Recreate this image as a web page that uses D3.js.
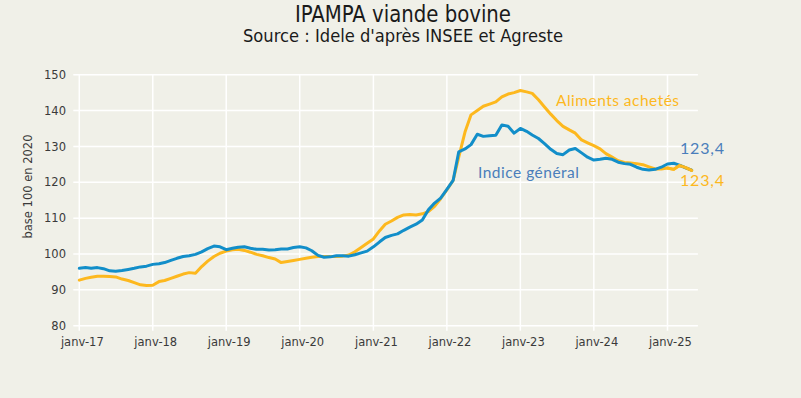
<!DOCTYPE html>
<html>
<head>
<meta charset="utf-8">
<script src="https://cdn.jsdelivr.net/npm/d3@7"></script>
<style>
  body { margin: 0; background: #f0f0e8; }
  svg { display: block; }
</style>
</head>
<body>
<svg id="chart" width="801" height="398"></svg>
<script>
// monthly values, janv-17 .. mai-25
const indiceGeneral = [
  96.0, 96.2, 96.0, 96.2, 95.9, 95.3, 95.2, 95.4, 95.7, 96.0, 96.4, 96.6,
  97.1, 97.3, 97.6, 98.2, 98.8, 99.3, 99.5, 99.9, 100.6, 101.5, 102.2, 102.0,
  101.2, 101.6, 101.9, 102.0, 101.6, 101.3, 101.3, 101.1, 101.2, 101.4, 101.4, 101.8,
  102.0, 101.7, 100.9, 99.6, 99.1, 99.2, 99.5, 99.5, 99.4, 99.8, 100.3, 100.8,
  102.0, 103.4, 104.6, 105.2, 105.6, 106.6, 107.5, 108.3, 109.5, 112.3, 114.2, 115.6,
  118.0, 120.5, 128.5, 129.3, 130.5, 133.4, 132.8, 133.0, 133.1, 136.0, 135.6, 133.7,
  135.0, 134.2, 133.2, 132.2, 130.8, 129.2, 128.0, 127.7, 129.0, 129.4, 128.2, 127.0,
  126.2, 126.4, 126.7, 126.4, 125.6, 125.2, 125.0, 124.2, 123.6, 123.4, 123.6, 124.2,
  125.1, 125.3, 124.8, 124.0, 123.4
];
const alimentsAchetes = [
  92.7, 93.2, 93.5, 93.8, 93.8, 93.7, 93.6, 93.0, 92.6, 92.0, 91.4, 91.2,
  91.3, 92.3, 92.6, 93.2, 93.8, 94.4, 94.8, 94.6, 96.5, 98.0, 99.3, 100.2,
  100.8, 101.2, 101.3, 101.0, 100.5, 99.9, 99.5, 99.0, 98.6, 97.6, 97.9, 98.2,
  98.5, 98.8, 99.1, 99.3, 99.3, 99.3, 99.3, 99.4, 99.7, 100.6, 101.8, 103.0,
  104.2, 106.5, 108.3, 109.2, 110.2, 110.9, 111.0, 110.9, 111.2, 111.8, 113.3, 115.4,
  117.9, 120.5, 127.0, 134.0, 138.8, 140.0, 141.2, 141.8, 142.4, 143.8, 144.6, 145.0,
  145.6, 145.2, 144.8, 143.0, 141.0, 139.0, 137.2, 135.6, 134.6, 133.7, 131.8, 131.0,
  130.2, 129.3, 128.0, 127.0, 126.0, 125.5, 125.4, 125.2, 124.9, 124.3, 123.7, 123.7,
  124.0, 123.6, 124.7, 124.1, 123.3
];
const xTickLabels = ["janv-17", "janv-18", "janv-19", "janv-20", "janv-21",
                     "janv-22", "janv-23", "janv-24", "janv-25"];
const yTicks = [80, 90, 100, 110, 120, 130, 140, 150];
const lastLabel = "123,4";

const months = d3.timeMonth.range(new Date(2017, 0, 1), new Date(2017, indiceGeneral.length, 1));

const svg = d3.select("#chart");
const plotLeft = 79.3, plotRight = 697.9, plotTop = 74.7, plotBottom = 325.7;

const x = d3.scaleTime()
  .domain([new Date(2017, 0, 1), new Date(2025, 5, 1)])
  .range([plotLeft, plotRight]);
const y = d3.scaleLinear()
  .domain([80, 150])
  .range([plotBottom, plotTop]);

svg.append("rect").attr("width", 801).attr("height", 398).attr("fill", "#f0f0e8");

// titles
svg.append("text")
  .attr("x", 403).attr("y", 22)
  .attr("text-anchor", "middle")
  .attr("textLength", 216).attr("lengthAdjust", "spacingAndGlyphs")
  .style("font-family", "'Liberation Sans Narrow', 'DejaVu Sans Condensed', sans-serif")
  .style("font-size", "23px")
  .style("fill", "#1a1a1a")
  .text("IPAMPA viande bovine");
svg.append("text")
  .attr("x", 403).attr("y", 42)
  .attr("text-anchor", "middle")
  .attr("textLength", 320).attr("lengthAdjust", "spacingAndGlyphs")
  .style("font-family", "'Liberation Sans Narrow', 'DejaVu Sans Condensed', sans-serif")
  .style("font-size", "18.5px")
  .style("fill", "#1a1a1a")
  .text("Source : Idele d'après INSEE et Agreste");

// grid
const years = xTickLabels.map((d, i) => new Date(2017 + i, 0, 1));
svg.append("g")
  .selectAll("line")
  .data(yTicks)
  .join("line")
  .attr("x1", plotLeft - 6).attr("x2", plotRight)
  .attr("y1", d => y(d)).attr("y2", d => y(d))
  .attr("stroke", "#fff").attr("stroke-width", 1.5);
svg.append("g")
  .selectAll("line")
  .data(years)
  .join("line")
  .attr("x1", d => x(d)).attr("x2", d => x(d))
  .attr("y1", plotTop).attr("y2", plotBottom + 5)
  .attr("stroke", "#fff").attr("stroke-width", 1.5);

// axis labels
const tickFont = "'DejaVu Sans', sans-serif";
svg.append("g")
  .selectAll("text")
  .data(yTicks)
  .join("text")
  .attr("x", 66).attr("y", d => y(d))
  .attr("dy", "0.36em")
  .attr("text-anchor", "end")
  .style("font-family", tickFont).style("font-size", "11.5px").style("fill", "#3a3a3a")
  .text(d => d);
svg.append("g")
  .selectAll("text")
  .data(years)
  .join("text")
  .attr("x", (d) => x(d) + 3).attr("y", 346)
  .attr("text-anchor", "middle")
  .style("font-family", tickFont).style("font-size", "11.5px").style("fill", "#3a3a3a")
  .text((d, i) => xTickLabels[i]);
svg.append("text")
  .attr("transform", "translate(32,186.5) rotate(-90)")
  .attr("text-anchor", "middle")
  .style("font-family", tickFont).style("font-size", "11.5px").style("fill", "#3a3a3a")
  .text("base 100 en 2020");

// lines
const line = d3.line()
  .x((d, i) => x(months[i]))
  .y(d => y(d));
svg.append("path")
  .datum(alimentsAchetes)
  .attr("d", line)
  .attr("fill", "none").attr("stroke", "#fdb81e")
  .attr("stroke-width", 3).attr("stroke-linejoin", "round").attr("stroke-linecap", "round");
svg.append("path")
  .datum(indiceGeneral)
  .attr("d", line)
  .attr("fill", "none").attr("stroke", "#128ec9")
  .attr("stroke-width", 3).attr("stroke-linejoin", "round").attr("stroke-linecap", "round");
// orange drawn again on the tail, it sits on top at the end
svg.append("path")
  .datum(alimentsAchetes.slice(-5))
  .attr("d", d3.line().x((d, i) => x(months[months.length - 5 + i])).y(d => y(d)))
  .attr("fill", "none").attr("stroke", "#fdb81e")
  .attr("stroke-width", 3).attr("stroke-linejoin", "round").attr("stroke-linecap", "round");

// series labels
const labFont = "Lato, 'Open Sans', sans-serif";
svg.append("text")
  .attr("x", 556).attr("y", 106)
  .attr("textLength", 123).attr("lengthAdjust", "spacing")
  .style("font-family", labFont).style("font-size", "15.5px").style("fill", "#fdb81e")
  .text("Aliments achetés");
svg.append("text")
  .attr("x", 478).attr("y", 178)
  .attr("textLength", 101).attr("lengthAdjust", "spacing")
  .style("font-family", labFont).style("font-size", "15.5px").style("fill", "#4a7ebb")
  .text("Indice général");
svg.append("text")
  .attr("x", 680).attr("y", 153.5)
  .attr("textLength", 44).attr("lengthAdjust", "spacing")
  .style("font-family", labFont).style("font-size", "16px").style("fill", "#4a7ebb")
  .text(lastLabel);
svg.append("text")
  .attr("x", 680).attr("y", 185.5)
  .attr("textLength", 44).attr("lengthAdjust", "spacing")
  .style("font-family", labFont).style("font-size", "16px").style("fill", "#fdb81e")
  .text(lastLabel);
</script>
</body>
</html>
